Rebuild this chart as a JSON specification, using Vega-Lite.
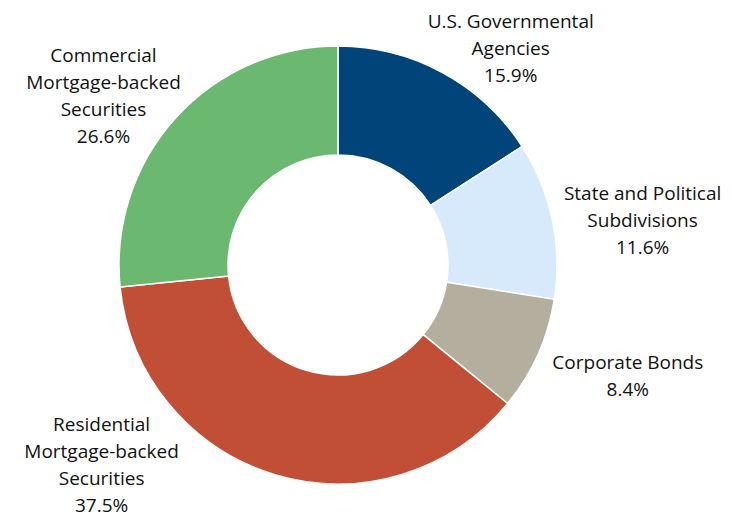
{
  "$schema": "https://vega.github.io/schema/vega-lite/v6.json",
  "autosize": {"type": "none"},
  "width": 676,
  "height": 506,
  "padding": {"left": 0, "top": 12, "right": 55, "bottom": 0},
  "background": "white",
  "view": {"stroke": null},
  "data": {
    "values": [
      {"idx": 1, "category": "U.S. Governmental Agencies", "share": 15.9, "lines": ["U.S. Governmental", "Agencies", "15.9%"]},
      {"idx": 2, "category": "State and Political Subdivisions", "share": 11.6, "lines": ["State and Political", "Subdivisions", "11.6%"]},
      {"idx": 3, "category": "Corporate Bonds", "share": 8.4, "lines": ["Corporate Bonds", "8.4%"]},
      {"idx": 4, "category": "Residential Mortgage-backed Securities", "share": 37.5, "lines": ["Residential", "Mortgage-backed", "Securities", "37.5%"]},
      {"idx": 5, "category": "Commercial Mortgage-backed Securities", "share": 26.6, "lines": ["Commercial", "Mortgage-backed", "Securities", "26.6%"]}
    ]
  },
  "encoding": {
    "theta": {"field": "share", "type": "quantitative", "stack": true},
    "order": {"field": "idx", "type": "quantitative"}
  },
  "layer": [
    {
      "mark": {"type": "arc", "outerRadius": 219, "innerRadius": 110, "stroke": "white", "strokeWidth": 1.5},
      "encoding": {
        "color": {
          "field": "category",
          "type": "nominal",
          "legend": null,
          "scale": {
            "domain": ["U.S. Governmental Agencies", "State and Political Subdivisions", "Corporate Bonds", "Residential Mortgage-backed Securities", "Commercial Mortgage-backed Securities"],
            "range": ["#004479", "#D6EAFB", "#B3AE9E", "#C04F35", "#6BB870"]
          }
        }
      }
    },
    {
      "mark": {"type": "text", "radius": 300, "dx": 29, "dy": 20, "font": "Open Sans", "fontSize": 19, "lineHeight": 27, "color": "#111111", "align": "center", "baseline": "middle"},
      "encoding": {"text": {"condition": {"test": "datum.idx == 1", "field": "lines"}, "value": ""}}
    },
    {
      "mark": {"type": "text", "radius": 300, "dx": 11, "dy": -9, "font": "Open Sans", "fontSize": 19, "lineHeight": 27, "color": "#111111", "align": "center", "baseline": "middle"},
      "encoding": {"text": {"condition": {"test": "datum.idx == 2", "field": "lines"}, "value": ""}}
    },
    {
      "mark": {"type": "text", "radius": 300, "dx": 16, "dy": -25, "font": "Open Sans", "fontSize": 19, "lineHeight": 27, "color": "#111111", "align": "center", "baseline": "middle"},
      "encoding": {"text": {"condition": {"test": "datum.idx == 3", "field": "lines"}, "value": ""}}
    },
    {
      "mark": {"type": "text", "radius": 300, "dx": -150, "dy": -127, "font": "Open Sans", "fontSize": 19, "lineHeight": 27, "color": "#111111", "align": "center", "baseline": "middle"},
      "encoding": {"text": {"condition": {"test": "datum.idx == 4", "field": "lines"}, "value": ""}}
    },
    {
      "mark": {"type": "text", "radius": 300, "dx": -12, "dy": -8, "font": "Open Sans", "fontSize": 19, "lineHeight": 27, "color": "#111111", "align": "center", "baseline": "middle"},
      "encoding": {"text": {"condition": {"test": "datum.idx == 5", "field": "lines"}, "value": ""}}
    }
  ]
}
